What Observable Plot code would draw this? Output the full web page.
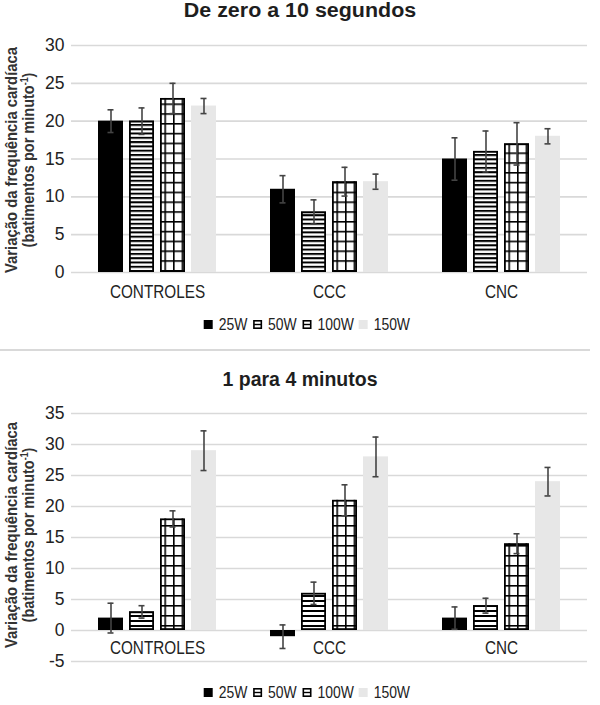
<!DOCTYPE html>
<html>
<head>
<meta charset="utf-8">
<script src="https://cdn.jsdelivr.net/npm/d3@7"></script>
<script src="https://cdn.jsdelivr.net/npm/@observablehq/plot@0.6"></script>
<style>
  body { margin: 0; background: #fff; width: 600px; height: 705px; position: relative; overflow: hidden;
         font-family: "Liberation Sans", Arial, sans-serif; color: #222; }
  .title { position: absolute; left: 0; width: 600px; text-align: center; font-weight: bold; font-size: 19.5px;
           line-height: 22px; color: #1e1e1e; }
  .chart, .legend { position: absolute; left: 0; }
  .sep { position: absolute; left: 0; width: 590px; height: 2px; background: #d9d9d9; }
</style>
</head>
<body>
<div class="title" style="top:-1px; transform: scaleX(1.1)">De zero a 10 segundos</div>
<div id="chart1" class="chart" style="top:25px"></div>
<div id="legend1" class="legend" style="top:312px"></div>
<div class="sep" style="top:349px"></div>
<div class="title" style="top:368px">1 para 4 minutos</div>
<div id="chart2" class="chart" style="top:395px"></div>
<div id="legend2" class="legend" style="top:680px"></div>
<script>
// Groups and exercise loads
const groups = ["CONTROLES", "CCC", "CNC"];
const loads = ["25W", "50W", "100W", "150W"];

// Heart-rate change from zero to 10 seconds (mean and error per group, per load)
const mean10s = [[20, 20, 23, 22], [11, 8, 12, 12], [15, 16, 17, 18]];
const err10s  = [[1.5, 1.75, 2, 1], [1.8, 1.6, 1.9, 1], [2.8, 2.7, 2.8, 1]];
const ticks10s = [0, 5, 10, 15, 20, 25, 30];

// Heart-rate change from minute 1 to minute 4
const mean4min = [[2, 3, 18, 29], [-1, 6, 21, 28], [2, 4, 14, 24]];
const err4min  = [[2.4, 1, 1.3, 3.2], [1.9, 1.8, 2.5, 3.2], [1.8, 1.2, 1.6, 2.3]];
const ticks4min = [-5, 0, 5, 10, 15, 20, 25, 30, 35];

const yTitle = ["Variação da frequência cardíaca", "(batimentos por minuto", "-1", ")"];

const FONT = '"Liberation Sans", Arial, sans-serif';
const GRAY = "#e7e7e7";

// squeeze SVG text horizontally, narrow-font style
function narrow(sel, k) {
  sel.each(function () {
    const len = this.getComputedTextLength();
    this.setAttribute("textLength", len * k);
    this.setAttribute("lengthAdjust", "spacingAndGlyphs");
  });
}

function rowsOf(means, errs) {
  return groups.flatMap((g, i) => loads.map((s, j) => ({
    group: g, load: s, value: means[i][j], lo: means[i][j] - errs[i][j], hi: means[i][j] + errs[i][j]
  })));
}

function chart({id, means, errs, ticks, height, marginTop, marginBottom, stripeH, cellW, cellH, labelDy, titleY}) {
  const rows = rowsOf(means, errs);
  const sid = "stripes-" + id, gid = "grid-" + id;
  const svg = Plot.plot({
    width: 600, height, marginLeft: 70, marginRight: 12, marginTop, marginBottom,
    style: {fontFamily: FONT, fontSize: "17.5px", color: "#222", background: "transparent", overflow: "visible"},
    fx: {domain: groups, padding: 0, axis: null},
    x: {domain: loads, paddingInner: 0.19, paddingOuter: 0.8, axis: null},
    y: {domain: [ticks[0], ticks[ticks.length - 1]], ticks, tickSize: 0, tickPadding: 7, label: null, tickFormat: d => String(d)},
    color: {domain: loads, range: ["#000", `url(#${sid})`, `url(#${gid})`, GRAY]},
    marks: [
      Plot.ruleY(ticks, {stroke: "#d9d9d9", strokeWidth: 1.6}),
      Plot.barY(rows, {fx: "group", x: "load", y: "value", fill: "load"}),
      Plot.barY(rows.filter(d => d.load === "50W" || d.load === "100W"),
        {fx: "group", x: "load", y: "value", fill: "none", stroke: "#000", strokeWidth: 1.8, inset: 0.9}),
      Plot.ruleX(rows, {fx: "group", x: "load", y1: "lo", y2: "hi", stroke: "#444", strokeWidth: 1.6}),
      Plot.tickY(rows, {fx: "group", x: "load", y: "hi", stroke: "#444", strokeWidth: 1.6, insetLeft: 9.5, insetRight: 9.5}),
      Plot.tickY(rows, {fx: "group", x: "load", y: "lo", stroke: "#444", strokeWidth: 1.6, insetLeft: 9.5, insetRight: 9.5}),
      Plot.text(groups, {fx: d => d, y: () => 0, text: d => d, dy: labelDy, fontSize: 18, fill: "#222", className: "catlabel"})
    ]
  });
  const root = d3.select(svg);
  const defs = root.insert("defs", ":first-child");
  const st = defs.append("pattern").attr("id", sid).attr("patternUnits", "userSpaceOnUse")
    .attr("width", 10).attr("height", stripeH);
  st.append("rect").attr("width", 10).attr("height", stripeH).attr("fill", "#fff");
  st.append("rect").attr("width", 10).attr("height", 2).attr("fill", "#000");
  const gr = defs.append("pattern").attr("id", gid).attr("patternUnits", "userSpaceOnUse")
    .attr("width", cellW).attr("height", cellH);
  gr.append("rect").attr("width", cellW).attr("height", cellH).attr("fill", "#fff");
  gr.append("rect").attr("width", 1.6).attr("height", cellH).attr("fill", "#000");
  gr.append("rect").attr("width", cellW).attr("height", 1.6).attr("fill", "#000");

  // two-line rotated y-axis title
  const t = root.append("g").attr("font-family", FONT).attr("font-weight", "bold").attr("font-size", 16.5)
    .attr("fill", "#333").attr("text-anchor", "middle");
  const l1 = t.append("text").attr("transform", `translate(17,${titleY}) rotate(-90)`).text(yTitle[0]);
  const l2 = t.append("text").attr("transform", `translate(33.5,${titleY}) rotate(-90)`);
  l2.append("tspan").text(yTitle[1]);
  l2.append("tspan").attr("font-size", 10).attr("dy", -6).text(yTitle[2]);
  l2.append("tspan").attr("dy", 6).text(yTitle[3]);

  document.getElementById("chart" + id).appendChild(svg);
  narrow(root.selectAll(".catlabel text"), 0.85);
  narrow(l1, 0.9);
  narrow(l2, 0.88);
}

function legend(id) {
  const svg = d3.select("#legend" + id).append("svg").attr("width", 600).attr("height", 26)
    .attr("font-family", FONT).attr("font-size", 16).attr("fill", "#222");
  const g = svg.append("g");
  let x = 0;
  loads.forEach(s => {
    const sw = g.append("g").attr("transform", `translate(${x},8)`);
    if (s === "25W") sw.append("rect").attr("width", 9).attr("height", 9).attr("fill", "#000");
    else if (s === "150W") sw.append("rect").attr("width", 9).attr("height", 9).attr("fill", GRAY);
    else {
      sw.append("rect").attr("x", 0.8).attr("y", 0.8).attr("width", 7.4).attr("height", 7.4)
        .attr("fill", "#fff").attr("stroke", "#000").attr("stroke-width", 1.6);
      sw.append("line").attr("x1", 1).attr("x2", 8).attr("y1", 4.5).attr("y2", 4.5)
        .attr("stroke", "#000").attr("stroke-width", 1.4);
    }
    const txt = g.append("text").attr("x", x + 15).attr("y", 18).text(s);
    narrow(txt, 0.87);
    x += 15 + txt.node().getComputedTextLength() * 0.87 + 9.5;
  });
  const w = x - 9.5;
  g.attr("transform", `translate(${304.5 - w / 2},0)`);
}

chart({id: 1, means: mean10s, errs: err10s, ticks: ticks10s, height: 277, marginTop: 20, marginBottom: 30,
       stripeH: 4.3, cellW: 8.6, cellH: 9.8, labelDy: 20, titleY: 135});
chart({id: 2, means: mean4min, errs: err4min, ticks: ticks4min, height: 276, marginTop: 18, marginBottom: 10,
       stripeH: 5, cellW: 8.6, cellH: 10, labelDy: 18, titleY: 140});
legend(1);
legend(2);
</script>
</body>
</html>
